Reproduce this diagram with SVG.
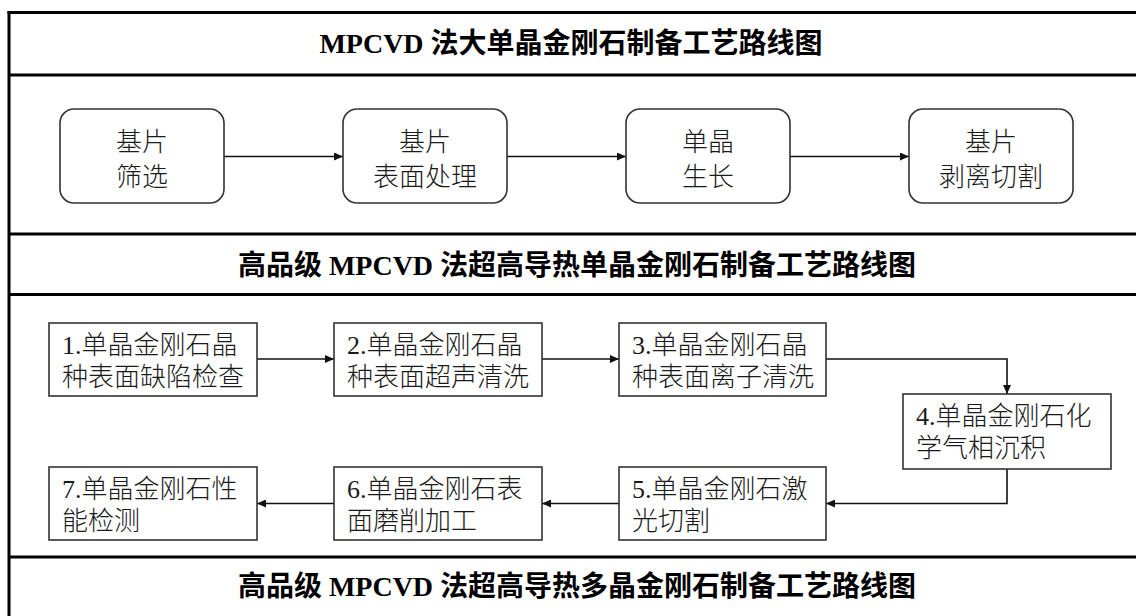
<svg xmlns="http://www.w3.org/2000/svg" width="1136" height="616" viewBox="0 0 1136 616">
<style>
.frame{stroke:#000;stroke-width:3;fill:none}
.title{font-family:"Liberation Serif","Noto Sans CJK SC",serif;font-weight:bold;font-size:28px;fill:#000;text-anchor:middle}
.rbox{fill:#fff;stroke:#333;stroke-width:1.6}
.rtext{font-family:"Noto Sans CJK SC",sans-serif;font-weight:300;font-size:26px;fill:#1a1a1a;text-anchor:middle}
.sbox{fill:#fff;stroke:#333;stroke-width:1.6}
.stext{font-family:"Liberation Serif","Noto Sans CJK SC",serif;font-weight:300;font-size:26px;fill:#1a1a1a}
.conn{stroke:#111;stroke-width:1.6;fill:none}
</style>
<defs>
<marker id="arr" markerUnits="userSpaceOnUse" markerWidth="9" markerHeight="8" refX="9" refY="4" orient="auto">
<path d="M0,0 L9,4 L0,8 z" fill="#111"/>
</marker>
</defs>
<rect width="1136" height="616" fill="#fff"/>
<g id="frame">
<line class="frame" x1="7.5" y1="12.5" x2="1136" y2="12.5"/>
<line class="frame" x1="9" y1="11" x2="9" y2="616"/>
<line class="frame" x1="9" y1="75" x2="1136" y2="75"/>
<line class="frame" x1="9" y1="234" x2="1136" y2="234"/>
<line class="frame" x1="9" y1="294.5" x2="1136" y2="294.5"/>
<line class="frame" x1="9" y1="557" x2="1136" y2="557"/>
</g>
<g id="title1"><text class="title" x="571" y="53">MPCVD 法大单晶金刚石制备工艺路线图</text></g>
<g id="title2"><text class="title" x="577" y="275">高品级 MPCVD 法超高导热单晶金刚石制备工艺路线图</text></g>
<g id="title3"><text class="title" x="577" y="596">高品级 MPCVD 法超高导热多晶金刚石制备工艺路线图</text></g>
<g id="connectors">
<line class="conn" x1="224" y1="156.5" x2="343" y2="156.5" marker-end="url(#arr)"/>
<line class="conn" x1="507" y1="156.5" x2="626" y2="156.5" marker-end="url(#arr)"/>
<line class="conn" x1="790" y1="156.5" x2="909" y2="156.5" marker-end="url(#arr)"/>
<line class="conn" x1="257" y1="359" x2="334" y2="359" marker-end="url(#arr)"/>
<line class="conn" x1="542" y1="359" x2="619" y2="359" marker-end="url(#arr)"/>
<polyline class="conn" points="826,359 1007,359 1007,394" marker-end="url(#arr)"/>
<polyline class="conn" points="1007,469 1007,503.5 826,503.5" marker-end="url(#arr)"/>
<line class="conn" x1="619" y1="503.5" x2="542" y2="503.5" marker-end="url(#arr)"/>
<line class="conn" x1="334" y1="503.5" x2="257" y2="503.5" marker-end="url(#arr)"/>
</g>
<g id="a1"><rect class="rbox" x="60" y="109" width="164" height="94" rx="14"/><text class="rtext" x="142" y="151">基片</text><text class="rtext" x="142" y="186">筛选</text></g>
<g id="a2"><rect class="rbox" x="343" y="109" width="164" height="94" rx="14"/><text class="rtext" x="425" y="151">基片</text><text class="rtext" x="425" y="186">表面处理</text></g>
<g id="a3"><rect class="rbox" x="626" y="109" width="164" height="94" rx="14"/><text class="rtext" x="708" y="151">单晶</text><text class="rtext" x="708" y="186">生长</text></g>
<g id="a4"><rect class="rbox" x="909" y="109" width="164" height="94" rx="14"/><text class="rtext" x="991" y="151">基片</text><text class="rtext" x="991" y="186">剥离切割</text></g>
<g id="b1"><rect class="sbox" x="49" y="323" width="208" height="73"/><text class="stext" x="62" y="354">1.单晶金刚石晶</text><text class="stext" x="62" y="386">种表面缺陷检查</text></g>
<g id="b2"><rect class="sbox" x="334" y="323" width="208" height="73"/><text class="stext" x="347" y="354">2.单晶金刚石晶</text><text class="stext" x="347" y="386">种表面超声清洗</text></g>
<g id="b3"><rect class="sbox" x="619" y="323" width="207" height="73"/><text class="stext" x="632" y="354">3.单晶金刚石晶</text><text class="stext" x="632" y="386">种表面离子清洗</text></g>
<g id="b4"><rect class="sbox" x="903" y="394" width="208" height="75"/><text class="stext" x="916" y="425">4.单晶金刚石化</text><text class="stext" x="916" y="457">学气相沉积</text></g>
<g id="b5"><rect class="sbox" x="619" y="467" width="207" height="73"/><text class="stext" x="632" y="498">5.单晶金刚石激</text><text class="stext" x="632" y="530">光切割</text></g>
<g id="b6"><rect class="sbox" x="334" y="467" width="208" height="73"/><text class="stext" x="347" y="498">6.单晶金刚石表</text><text class="stext" x="347" y="530">面磨削加工</text></g>
<g id="b7"><rect class="sbox" x="49" y="467" width="208" height="73"/><text class="stext" x="62" y="498">7.单晶金刚石性</text><text class="stext" x="62" y="530">能检测</text></g>
</svg>
